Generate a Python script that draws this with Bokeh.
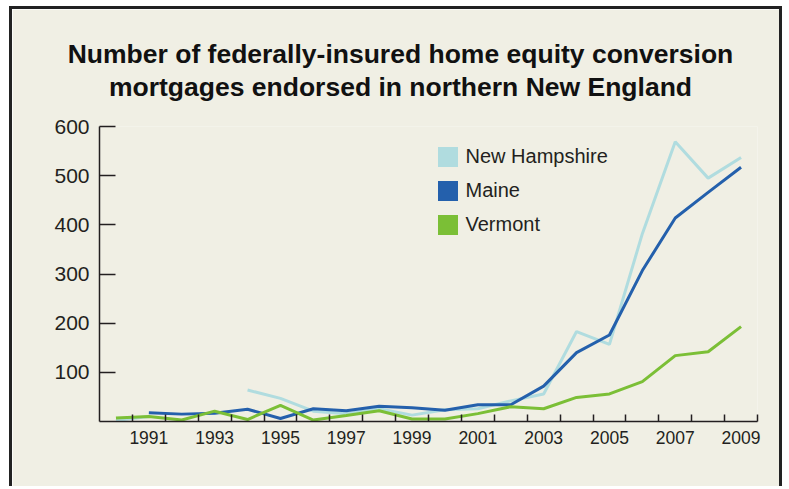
import numpy as np
from bokeh.plotting import figure
from bokeh.models import (ColumnDataSource, FixedTicker, Legend, LegendItem, Label, Range1d)
from bokeh.embed import file_html
from bokeh.resources import INLINE

# ---- data ----
years = list(range(1990, 2010))
new_hampshire = [2, 10, np.nan, np.nan, 64, 47, 21, 16, 26, 13, 24, 26, 42, 56, 183, 157, 382, 569, 495, 537]
maine = [np.nan, 18, 15, 17, 25, 6, 26, 22, 31, 28, 23, 34, 34, 72, 140, 176, 307, 414, 466, 517]
vermont = [7, 10, 3, 21, 4, 33, 3, 12, 22, 5, 5, 16, 30, 26, 49, 56, 81, 134, 142, 193]

series_names = ["New Hampshire", "Maine", "Vermont"]
series_colors = ["#b0dcdf", "#2460ac", "#7bbf36"]

x_label_years = list(range(1991, 2010, 2))
x_boundaries = [y + 0.5 for y in range(1990, 2010)]
y_ticks = [100, 200, 300, 400, 500, 600]

title_text = "Number of federally-insured home equity conversion\nmortgages endorsed in northern New England"

BG = "#f0efe4"
INK = "#231f20"
FONT = "Liberation Sans"

p = figure(width=773, height=480, output_backend="svg", toolbar_location=None,
           x_range=Range1d(1989.5, 2009.5), y_range=Range1d(0, 600),
           min_border_left=87, min_border_right=28, min_border_top=117, min_border_bottom=68)
p.styles = {"margin-left": "9px", "margin-top": "6px",
            "border-top": "3px solid #222222", "border-left": "3px solid #222222",
            "border-right": "3px solid #222222"}
p.background_fill_color = BG
p.border_fill_color = BG
p.outline_line_color = None
p.grid.visible = False

src = ColumnDataSource(dict(year=years, nh=new_hampshire, me=maine, vt=vermont))
cols = ["nh", "me", "vt"]
for col, color in zip(cols, series_colors):
    p.line("year", col, source=src, line_color=color, line_width=3)

# legend swatches (square patches, nothing drawn in the plot area)
items = []
for name, color in zip(series_names, series_colors):
    sw = ColumnDataSource(dict(l=[np.nan], r=[np.nan], t=[np.nan], b=[np.nan]))
    rr = p.quad(left="l", right="r", top="t", bottom="b", source=sw,
                fill_color=color, line_color=None)
    items.append(LegendItem(label=name, renderers=[rr]))
legend = Legend(items=items, location=(335.5, 184.5), padding=0, spacing=9,
                glyph_width=25, glyph_height=25, label_standoff=6,
                label_text_font=FONT, label_text_font_size="20px", label_text_color=INK,
                background_fill_alpha=0, border_line_color=None)
p.add_layout(legend, "center")

# axes
xa = p.xaxis[0]
xa.ticker = FixedTicker(ticks=x_label_years, minor_ticks=x_boundaries)
xa.major_tick_line_color = None
xa.minor_tick_in = 7
xa.minor_tick_out = 0
xa.minor_tick_line_color = INK
xa.minor_tick_line_width = 1.5
xa.axis_line_color = INK
xa.axis_line_width = 1.5
xa.major_label_standoff = 3
xa.major_label_text_font = FONT
xa.major_label_text_font_size = "17.5px"
xa.major_label_text_color = INK

ya = p.yaxis[0]
ya.ticker = FixedTicker(ticks=y_ticks)
ya.major_tick_in = 16
ya.major_tick_out = 0
ya.major_tick_line_color = INK
ya.major_tick_line_width = 1.5
ya.minor_tick_line_color = None
ya.axis_line_color = INK
ya.axis_line_width = 1.5
ya.major_label_standoff = 10
ya.major_label_text_font = FONT
ya.major_label_text_font_size = "21px"
ya.major_label_text_color = INK

# two-line centred title placed in the top margin
title = Label(x=301, y=56, x_units="screen", y_units="screen", text=title_text,
              text_align="center", text_baseline="middle", text_line_height=1.07,
              text_font=FONT, text_font_style="bold", text_font_size="26.5px",
              text_color="#111111")
p.add_layout(title, "above")

open("out.html", "w").write(file_html(p, INLINE))
